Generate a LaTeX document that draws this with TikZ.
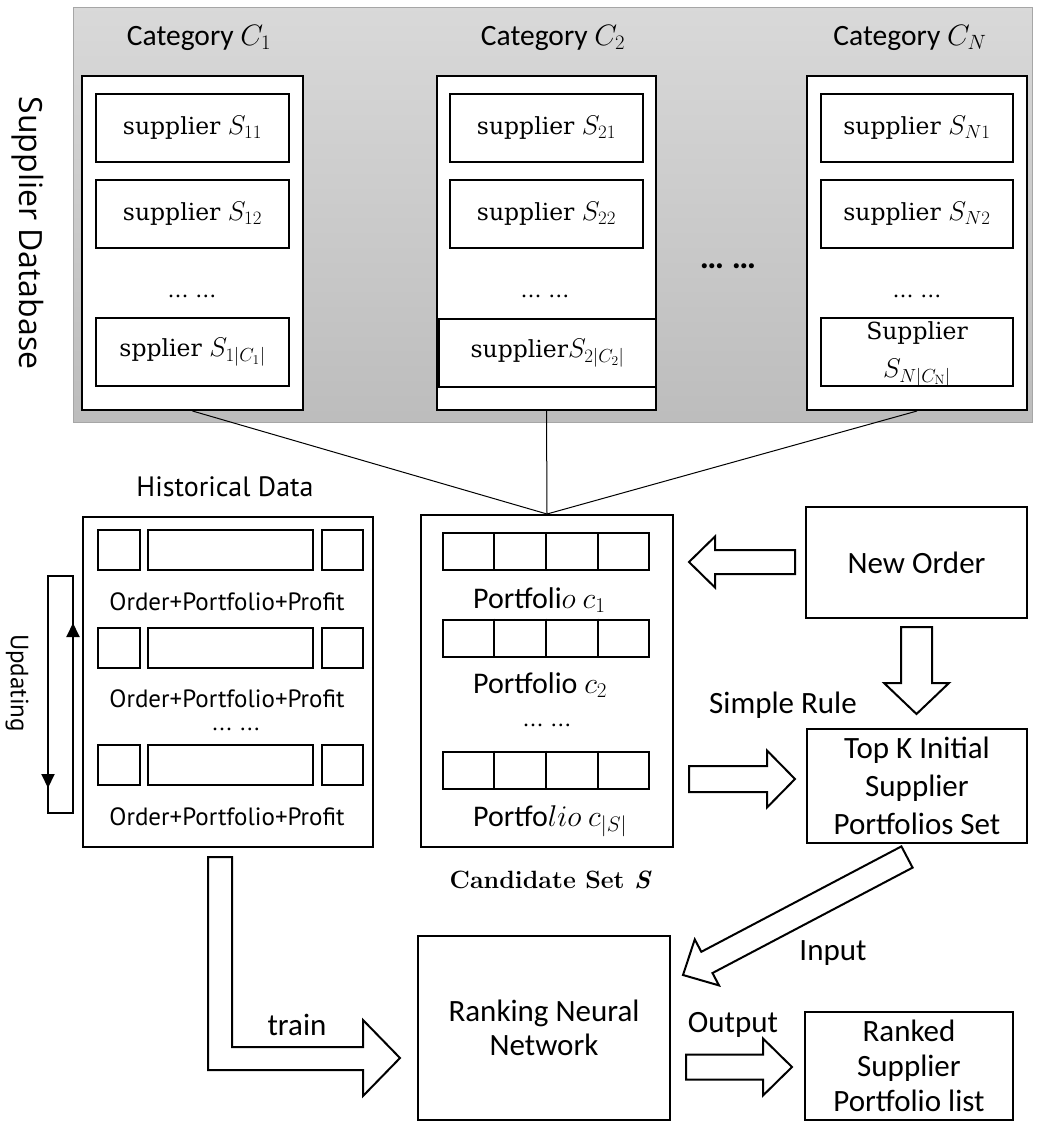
\RequirePackage{fix-cm}
\documentclass[tikz,border=0pt]{standalone}
\usepackage{fontspec}
\usetikzlibrary{calc,arrows.meta}
\newfontfamily\calfont{Carlito}
\newfontfamily\myrfont{PT Sans}
\newfontfamily\segfont{Open Sans}
\newfontfamily\serfont{DejaVu Serif}

% supplier symbol set a little larger than the surrounding serif text
\newcommand\supsym[1]{{\fontsize{27}{30}\selectfont$#1$}}

% hollow block arrow: tail, tip, shaft half width, head half width, head length
\newcommand\blockarrow[5]{%
  \draw[blk] ($(#1)!#3!90:(#2)$) -- ($(#2)!#5!(#1)!#3!-90:(#1)$)
    -- ($(#2)!#5!(#1)!#4!-90:(#1)$) -- (#2)
    -- ($(#2)!#5!(#1)!#4!90:(#1)$) -- ($(#2)!#5!(#1)!#3!90:(#1)$)
    -- ($(#1)!#3!-90:(#2)$) -- cycle;}

\tikzset{
  box/.style={draw, line width=2pt, fill=white, inner sep=0pt},
  panel/.style={draw=black!35, line width=0.8pt, top color=black!15, bottom color=black!26, inner sep=0pt},
  thinline/.style={line width=1pt},
  blk/.style={draw, line width=2pt, fill=white, line join=miter},
  lbl/.style={font=\calfont\fontsize{31}{37}\selectfont, align=center, inner sep=0pt},
  cattitle/.style={font=\calfont\fontsize{29.5}{34}\selectfont, inner sep=0pt},
  sup/.style={box, minimum width=193pt, minimum height=68pt, font=\serfont\fontsize{23.5}{30}\selectfont},
  suptext/.style={font=\serfont\fontsize{23.5}{38}\selectfont, inner sep=0pt, align=center},
  dotsml/.style={font=\serfont\fontsize{21}{26}\selectfont, inner sep=0pt},
  ptxt/.style={font=\calfont\fontsize{30}{35}\selectfont, inner sep=0pt},
  htxt/.style={font=\myrfont\fontsize{25}{30}\selectfont, inner sep=0pt},
  cell/.style={box, minimum height=40pt},
  portrow/.style={box, minimum width=206pt, minimum height=37pt},
}

\begin{document}
\begin{tikzpicture}[x=1pt,y=-1pt]
\useasboundingbox (0,0) rectangle (1037,1122);
\fill[white] (0,0) rectangle (1037,1122);

% ---------- supplier database panel ----------
\node[panel, minimum width=959pt, minimum height=415pt] (dbpanel) at (552.5,214.5) {};
\node[font=\segfont\fontsize{32}{37}\selectfont, rotate=-90, inner sep=0pt] (dbname) at (28,233) {Supplier Database};

\node[box, minimum width=221pt, minimum height=334pt] (cat1) at (192.5,243) {};
\node[box, minimum width=219pt, minimum height=334pt] (cat2) at (546.5,243) {};
\node[box, minimum width=220pt, minimum height=334pt] (catN) at (917,243) {};

\node[cattitle, anchor=base] (t1) at (199,45) {Category $C_1$};
\node[cattitle, anchor=base] (t2) at (553,45) {Category $C_2$};
\node[cattitle, anchor=base] (tN) at (910,45) {Category $C_N$};

\node[sup] (s11) at (192.5,128) {supplier \supsym{S_{11}}};
\node[sup] (s12) at (192.5,214) {supplier \supsym{S_{12}}};
\node[sup] (s1n) at (192.5,352) {spplier \supsym{S_{1|C_1|}}};
\node[dotsml, anchor=base] (d1) at (192,297) {\dots\ \dots};

\node[sup] (s21) at (546.5,128) {supplier \supsym{S_{21}}};
\node[sup] (s22) at (546.5,214) {supplier \supsym{S_{22}}};
\node[sup, minimum width=217pt] (s2n) at (547.5,353) {supplier\supsym{S_{2|C_2|}}};
\node[dotsml, anchor=base] (d2) at (545,297) {\dots\ \dots};

\node[sup, minimum width=192pt] (sN1) at (917,128) {supplier \supsym{S_{N1}}};
\node[sup, minimum width=192pt] (sN2) at (917,214) {supplier \supsym{S_{N2}}};
\node[sup, minimum width=192pt] (sNn) at (917,352) {};
\node[suptext] (sNntext) at (917,354) {Supplier\\\supsym{S_{N|C_{\mathrm{N}}|}}};
\node[dotsml, anchor=base] (dN) at (917,297) {\dots\ \dots};

\node[font=\calfont\bfseries\fontsize{34}{40}\selectfont, inner sep=0pt, anchor=base] (dmid) at (728,268) {… …};

% ---------- candidate set ----------
\node[box, minimum width=252pt, minimum height=332pt] (cand) at (547,681) {};
\draw[thinline] (cat1.south) -- (cand.north);
\draw[thinline] (cat2.south) -- (cand.north);
\draw[thinline] (catN.south) -- (cand.north);

\node[portrow] (p1) at (546,551.5) {};
\node[portrow] (p2) at (546,638) {};
\node[portrow] (p3) at (546,770) {};
\foreach \r in {p1,p2,p3}
  \foreach \f in {0.25,0.5,0.75}
    \draw[line width=2pt] ($(\r.north west)!\f!(\r.north east)$) -- ($(\r.south west)!\f!(\r.south east)$);
\node[ptxt, anchor=base west] (pt1) at (473,608) {Portfoli$o$ $c_1$};
\node[ptxt, anchor=base west] (pt2) at (473,693) {Portfolio $c_2$};
\node[dotsml, anchor=base] (dc) at (547,726) {\dots\ \dots};
\node[ptxt, anchor=base west] (pt3) at (473,826) {Portfo$lio$ $c_{|S|}$};
\node[font=\fontsize{25}{30}\selectfont\bfseries, inner sep=0pt] (candlbl) at (550,880) {Candidate Set {\itshape S}};

% ---------- historical data ----------
\node[font=\myrfont\fontsize{28}{33}\selectfont, inner sep=0pt] (histlbl) at (225,487) {Historical Data};
\node[box, minimum width=290pt, minimum height=330pt] (hist) at (228,682) {};
\foreach \i/\y in {1/550,2/648,3/765} {
  \node[cell, minimum width=42pt] (h\i a) at (119,\y) {};
  \node[cell, minimum width=165pt] (h\i b) at (230.5,\y) {};
  \node[cell, minimum width=41pt] (h\i c) at (342.5,\y) {};
}
\node[htxt] (o1) at (227,602) {Order+Portfolio+Profit};
\node[htxt] (o2) at (227,699) {Order+Portfolio+Profit};
\node[dotsml, anchor=base] (dh) at (236,730) {\dots\ \dots};
\node[htxt] (o3) at (227,817) {Order+Portfolio+Profit};

% updating loop
\coordinate (uTL) at (48,576);
\coordinate (uBR) at (73,813);
\draw[line width=2pt] (uTL) rectangle (uBR);
\coordinate (upTail) at (73,680);
\coordinate (upTip) at (73,623);
\draw[line width=2pt, -{Triangle[length=14pt,width=13pt]}] (upTail) -- (upTip);
\coordinate (dnTail) at (48,730);
\coordinate (dnTip) at (48,788);
\draw[line width=2pt, -{Triangle[length=14pt,width=13pt]}] (dnTail) -- (dnTip);
\node[font=\myrfont\fontsize{25}{30}\selectfont, rotate=-90, inner sep=0pt] (upd) at (17,683) {Updating};

% ---------- order handling ----------
\node[box, lbl, minimum width=221pt, minimum height=111pt] (neworder) at (916.5,562.5) {New Order};
\node[box, lbl, font=\calfont\fontsize{31}{38}\selectfont, minimum width=220pt, minimum height=114pt] (topk) at (917,786) {Top K Initial\\Supplier\\Portfolios Set};
\node[lbl] (rule) at (783,705) {Simple Rule};

\node[box, lbl, font=\calfont\fontsize{31}{34}\selectfont, minimum width=252pt, minimum height=184pt] (rank) at (544,1028) {Ranking Neural\\Network};
\node[box, lbl, font=\calfont\fontsize{31}{35}\selectfont, minimum width=208pt, minimum height=108pt] (ranked) at (909,1066) {Ranked\\Supplier\\Portfolio list};

\node[lbl] (inlbl) at (833,953) {Input};
\node[lbl] (outlbl) at (733,1025) {Output};
\node[lbl] (trainlbl) at (297,1025) {train};

% block arrows
\coordinate (noTail) at (795,562);
\coordinate (noTip) at (689,562);
\blockarrow{noTail}{noTip}{12pt}{25.5pt}{26pt}
\coordinate (ndTail) at (916.5,627);
\coordinate (ndTip) at (916.5,714);
\blockarrow{ndTail}{ndTip}{15.5pt}{32.5pt}{31pt}
\coordinate (crTail) at (689,779);
\coordinate (crTip) at (795,779);
\blockarrow{crTail}{crTip}{13pt}{28.5pt}{28pt}
\coordinate (inTail) at (907,857);
\coordinate (inTip) at (683,975);
\blockarrow{inTail}{inTip}{12pt}{26pt}{27pt}
\coordinate (outTail) at (686,1067);
\coordinate (outTip) at (792,1067);
\blockarrow{outTail}{outTip}{12.5pt}{28.5pt}{29pt}

% training arrow from the historical data
\draw[blk] (208,857) -- (232,857) -- (232,1047) -- (363,1047) -- (363,1020)
  -- (400,1058) -- (363,1096) -- (363,1070) -- (208,1070) -- cycle;
\end{tikzpicture}
\end{document}
